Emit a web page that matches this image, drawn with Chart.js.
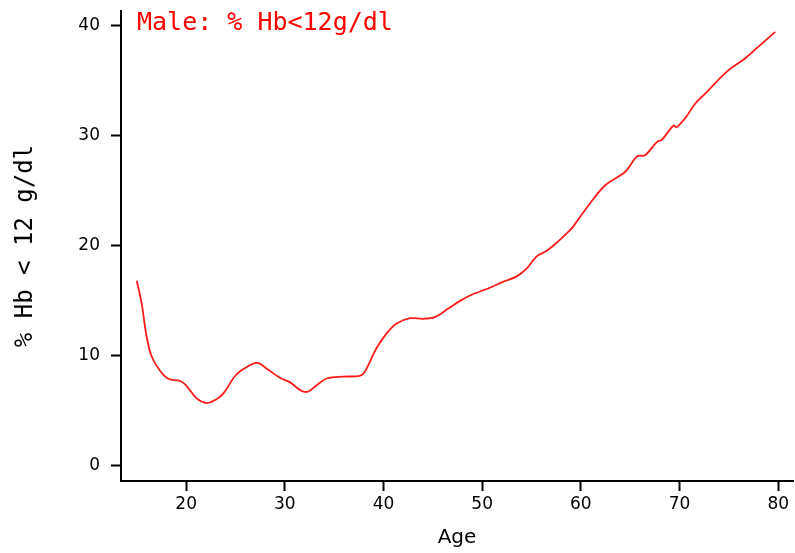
<!DOCTYPE html>
<html>
<head>
<meta charset="utf-8">
<script src="https://cdn.jsdelivr.net/npm/chart.js@4/dist/chart.umd.min.js"></script>
<style>
  html, body { margin: 0; padding: 0; background: #fff; }
  canvas { display: block; }
</style>
</head>
<body>
<canvas id="chart-canvas" width="795" height="553"></canvas>
<script>
const ages = [
  15.0, 15.5, 16.0, 16.5, 17.3, 18.2, 19.4, 20.1, 21.1, 22.1,
  23.0, 23.8, 25.0, 26.0, 27.2, 28.2, 29.5, 30.5, 31.7, 32.4,
  33.2, 34.3, 35.9, 37.5, 38.0, 38.6, 39.3, 40.3, 41.3, 42.7,
  44.0, 45.2, 46.6, 47.8, 49.1, 50.6, 52.1, 53.5, 54.5, 55.5,
  56.5, 57.6, 58.9, 59.2, 60.9, 62.5, 64.5, 65.7, 66.5, 67.7,
  68.2, 69.4, 69.7, 70.6, 71.6, 72.6, 74.8, 76.5, 77.8, 79.7
];
const pctLowHb = [
  16.8, 14.7, 11.7, 9.95, 8.7, 7.9, 7.7, 7.2, 6.1, 5.7,
  6.0, 6.6, 8.2, 8.9, 9.35, 8.8, 8.0, 7.6, 6.8, 6.75,
  7.3, 7.95, 8.1, 8.15, 8.4, 9.4, 10.7, 12.0, 12.9, 13.4,
  13.35, 13.5, 14.3, 15.0, 15.6, 16.1, 16.7, 17.2, 17.9, 19.0,
  19.5, 20.3, 21.4, 21.7, 23.8, 25.5, 26.7, 28.1, 28.2, 29.4,
  29.6, 30.9, 30.75, 31.6, 32.9, 33.8, 35.8, 36.9, 37.9, 39.4
];
const xTicks = [20, 30, 40, 50, 60, 70, 80];
const yTicks = [0, 10, 20, 30, 40];

const chartTitle = "Male: % Hb<12g/dl";
const monoFont = "'DejaVu Sans Mono', 'Liberation Mono', monospace";

Chart.defaults.font.family = "'DejaVu Sans', sans-serif";
Chart.defaults.color = "#000";

const points = ages.map((a, i) => ({ x: a, y: pctLowHb[i] }));

// red title in the top-left corner of the plot
const cornerTitle = {
  id: "cornerTitle",
  afterDraw(chart) {
    const ctx = chart.ctx;
    ctx.save();
    ctx.fillStyle = "#ff0000";
    ctx.font = "25px " + monoFont;
    ctx.textBaseline = "alphabetic";
    ctx.fillText(chartTitle, chart.chartArea.left + 16, 30);
    ctx.restore();
  }
};

const axisStyle = {
  grid: { display: true, drawOnChartArea: false, drawTicks: true, tickLength: 10, tickWidth: 2, tickColor: "#000" },
  border: { display: true, color: "#000", width: 2 }
};

const config = {
  type: "line",
  data: {
    datasets: [{
      label: "% Hb < 12 g/dl",
      data: points,
      borderColor: "#ff1a1a",
      borderWidth: 1.8,
      pointRadius: 0,
      tension: 0.35,
      fill: false
    }]
  },
  options: {
    responsive: false,
    animation: false,
    layout: { padding: { top: 11, right: 2, bottom: 0, left: 0 } },
    plugins: { legend: { display: false }, tooltip: { enabled: false } },
    scales: {
      x: {
        type: "linear",
        min: 13.4,
        max: 81.5,
        ...axisStyle,
        ticks: { font: { size: 17 }, padding: 3, maxRotation: 0 },
        afterBuildTicks: (scale) => { scale.ticks = xTicks.map(v => ({ value: v })); },
        afterFit: (scale) => { scale.height = 72; },
        title: { display: true, text: "Age", font: { size: 20 }, padding: { top: 0, bottom: 3 } }
      },
      y: {
        type: "linear",
        min: -1.38,
        max: 41.3,
        ...axisStyle,
        ticks: { font: { size: 17 }, padding: 11 },
        afterBuildTicks: (scale) => { scale.ticks = yTicks.map(v => ({ value: v })); },
        afterFit: (scale) => {
          scale.width = 121;
          scale.paddingTop = 0;
          scale.paddingBottom = 0;
        },
        title: { display: true, text: "% Hb < 12 g/dl", font: { size: 24, family: monoFont }, padding: { top: 11, bottom: 0 } }
      }
    }
  },
  plugins: [cornerTitle]
};

const myChart = new Chart(document.getElementById("chart-canvas"), config);
</script>
</body>
</html>
